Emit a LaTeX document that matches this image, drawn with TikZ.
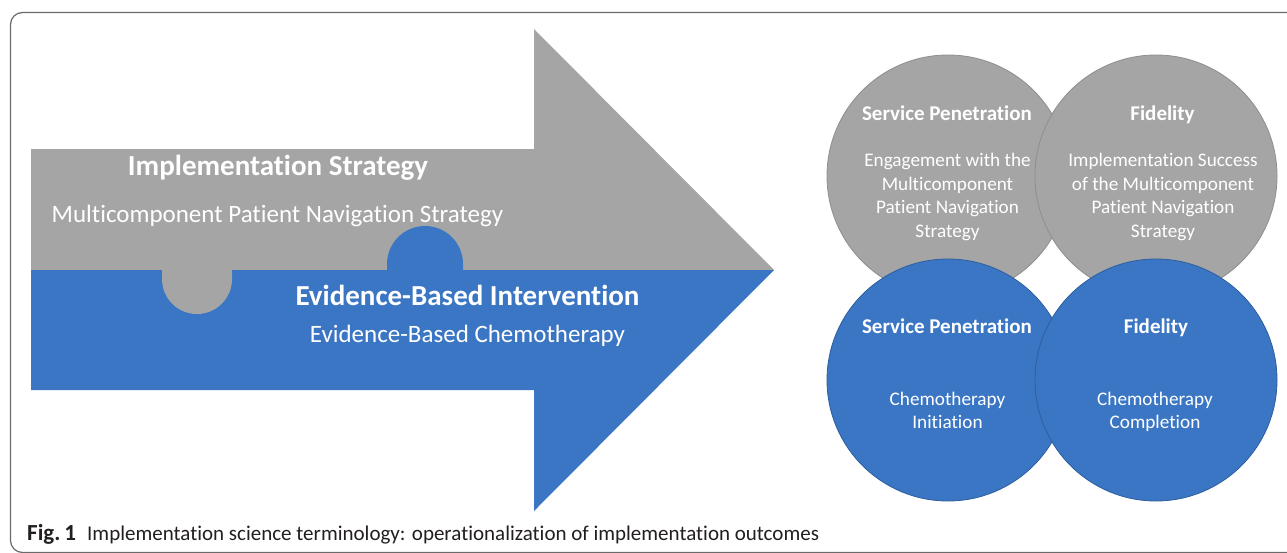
\documentclass[tikz,border=0pt]{standalone}
\usepackage{fontspec}
\setmainfont{Carlito}[Ligatures=NoCommon]
\definecolor{pgray}{HTML}{A5A5A5}
\definecolor{pblue}{HTML}{3A76C4}
\definecolor{pgrayline}{HTML}{8E8E8E}
\definecolor{pblueline}{HTML}{2F5E9E}
\definecolor{frameline}{HTML}{6A6A6A}
\definecolor{captext}{HTML}{231F20}
\begin{document}
\begin{tikzpicture}[x=1pt,y=-1pt,
  title/.style={text=white,font=\bfseries\fontsize{29}{32}\selectfont,anchor=base,inner sep=0pt},
  sub/.style={text=white,font=\fontsize{25}{28}\selectfont,anchor=base,inner sep=0pt},
  ctitle/.style={text=white,font=\bfseries\fontsize{21}{24}\selectfont,anchor=base,inner sep=0pt},
  cbody/.style={text=white,font=\fontsize{19.2}{23}\selectfont,anchor=base,inner sep=0pt},
  gcircle/.style={circle,minimum size=242,inner sep=0pt,fill=pgray,draw=pgrayline,line width=0.8},
  bcircle/.style={circle,minimum size=242,inner sep=0pt,fill=pblue,draw=pblueline,line width=0.8},
  captionstyle/.style={text=captext,font=\fontsize{21}{24}\selectfont,anchor=base west,inner sep=0pt}]
\useasboundingbox (0,0) rectangle (1287,552);
\clip (0,0) rectangle (1287,552);
\fill[white] (0,0) rectangle (1287,552);
% frame
\draw[frameline,line width=1.2,rounded corners=12] (10.5,12.5) rectangle (1310,552.5);
% arrow: gray upper half
\fill[pgray] (31,149) -- (534,149) -- (534,29) -- (774,270) -- (31,270) -- cycle;
% arrow: blue lower half
\fill[pblue] (31,270) -- (774,270) -- (534,511) -- (534,390) -- (31,390) -- cycle;
% puzzle tabs (y axis points down, so angle 90 is downwards)
\fill[pgray] (162,269.5) -- (162,279) arc[start angle=180,end angle=0,radius=35] -- (232,269.5) -- cycle;
\fill[pblue] (387,270.5) -- (387,264) arc[start angle=180,end angle=360,radius=38] -- (463,270.5) -- cycle;
% arrow texts
\node[title] (is) at (278,175) {Implementation Strategy};
\node[sub] (mpns) at (277.5,222) {Multicomponent Patient Navigation Strategy};
\node[title] (ebi) at (467.5,305) {Evidence-Based Intervention};
\node[sub] (ebc) at (467.5,342) {Evidence-Based Chemotherapy};
% circles
\node[gcircle] (g1) at (948,176) {};
\node[gcircle] (g2) at (1156,176) {};
\node[bcircle] (b1) at (948,380) {};
\node[bcircle] (b2) at (1156,380) {};
% gray circle texts
\node[ctitle] (g1t) at (947,120) {Service Penetration};
\node[cbody] (g1a) at (947.5,166) {Engagement with the};
\node[cbody] (g1b) at (947.5,190) {Multicomponent};
\node[cbody] (g1c) at (947.5,213.5) {Patient Navigation};
\node[cbody] (g1d) at (947.5,237) {Strategy};
\node[ctitle] (g2t) at (1162.5,120) {Fidelity};
\node[cbody] (g2a) at (1163,166) {Implementation Success};
\node[cbody] (g2b) at (1163,190) {of the Multicomponent};
\node[cbody] (g2c) at (1163,213.5) {Patient Navigation};
\node[cbody] (g2d) at (1163,237) {Strategy};
% blue circle texts
\node[ctitle] (b1t) at (947,333) {Service Penetration};
\node[cbody] (b1a) at (947.5,405) {Chemotherapy};
\node[cbody] (b1b) at (947.5,428) {Initiation};
\node[ctitle] (b2t) at (1156,333) {Fidelity};
\node[cbody] (b2a) at (1155,405) {Chemotherapy};
\node[cbody] (b2b) at (1155,428) {Completion};
% caption
\node[captionstyle,font=\bfseries\fontsize{23}{26}\selectfont] (fig) at (27,540) {Fig.\,1};
\node[captionstyle] (capt) at (87,540) {Implementation science terminology: operationalization of implementation outcomes};
\end{tikzpicture}
\end{document}
